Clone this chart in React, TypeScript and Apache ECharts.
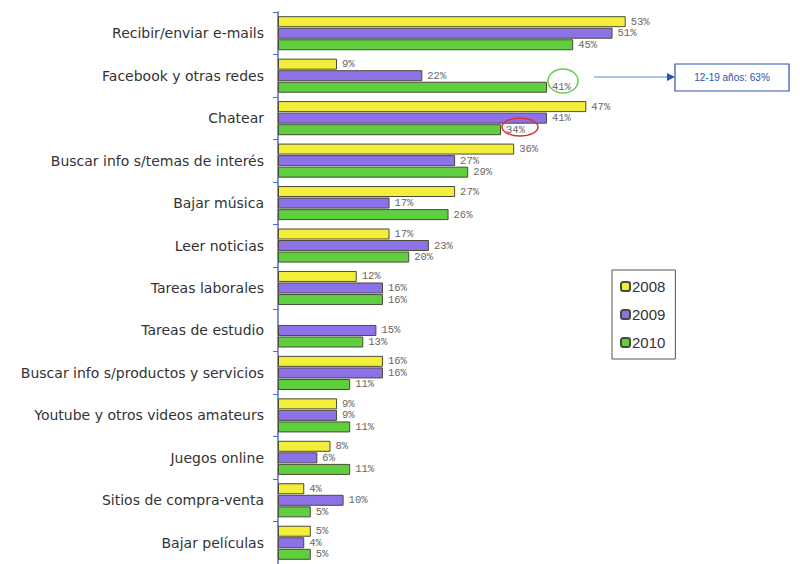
import React, { useEffect, useRef } from "react";
import * as echarts from "echarts";

const categories = [
  "Recibir/enviar e-mails",
  "Facebook y otras redes",
  "Chatear",
  "Buscar info s/temas de interés",
  "Bajar música",
  "Leer noticias",
  "Tareas laborales",
  "Tareas de estudio",
  "Buscar info s/productos y servicios",
  "Youtube y otros videos amateurs",
  "Juegos online",
  "Sitios de compra-venta",
  "Bajar películas",
];
const years = ["2008", "2009", "2010"];
const values2008 = [53, 9, 47, 36, 27, 17, 12, null, 16, 9, 8, 4, 5];
const values2009 = [51, 22, 41, 27, 17, 23, 16, 15, 16, 9, 6, 10, 4];
const values2010 = [45, 41, 34, 29, 26, 20, 16, 13, 11, 11, 11, 5, 5];
const calloutText = "12-19 años: 63%";

const colors = ["#f2ee3a", "#8c72e6", "#5fcf3f"];

export default function App() {
  const ref = useRef<HTMLDivElement>(null);
  useEffect(() => {
    if (!ref.current) return;
    const chart = echarts.init(ref.current, null, { renderer: "svg" });
    const seriesData = [values2008, values2009, values2010];
    chart.setOption({
      animation: false,
      backgroundColor: "#ffffff",
      grid: { left: 278, width: 492, top: 12, height: 557, containLabel: false },
      xAxis: { type: "value", min: 0, max: 75, show: false },
      yAxis: {
        type: "category",
        data: categories,
        inverse: true,
        axisLine: { show: true, lineStyle: { color: "#4a72c4", width: 1.5 } },
        axisTick: { show: true, length: 5, lineStyle: { color: "#4a72c4" } },
        axisLabel: {
          margin: 14,
          fontFamily: "DejaVu Sans",
          fontSize: 14,
          color: "#333",
        },
      },
      legend: {
        data: years,
        orient: "vertical",
        left: 612,
        top: 270,
        padding: [9, 10, 9, 8],
        itemGap: 13,
        itemWidth: 9,
        itemHeight: 9,
        borderColor: "#555",
        borderWidth: 1,
        icon: "roundRect",
        textStyle: { fontFamily: "Liberation Sans", fontSize: 15, color: "#333", padding: [0, 0, 0, -3] },
      },
      series: years.map((y, i) => ({
        name: y,
        type: "bar",
        data: seriesData[i],
        barWidth: 11,
        barGap: "5%",
        itemStyle: { color: colors[i], borderColor: "#4a4a3a", borderWidth: 1 },
        label: {
          show: true,
          position: "right",
          distance: 5,
          formatter: (p: any) => (p.value == null ? "" : p.value + "%"),
          fontFamily: "Liberation Mono",
          fontSize: 10.5,
          lineHeight: 11,
          color: "#666",
        },
      })),
      graphic: [
        {
          type: "ellipse",
          shape: { cx: 563, cy: 81, rx: 15, ry: 12 },
          style: { fill: "none", stroke: "#66cc44", lineWidth: 1.5 },
          z: 10,
        },
        {
          type: "ellipse",
          shape: { cx: 520, cy: 127, rx: 18, ry: 9 },
          style: { fill: "none", stroke: "#e03030", lineWidth: 1.5 },
          z: 10,
        },
        {
          type: "line",
          shape: { x1: 594, y1: 77, x2: 668, y2: 77 },
          style: { stroke: "#5b86d6", lineWidth: 1.2 },
          z: 10,
        },
        {
          type: "polygon",
          shape: { points: [[675, 77], [667, 73], [667, 81]] },
          style: { fill: "#3050b0" },
          z: 10,
        },
        {
          type: "rect",
          shape: { x: 675, y: 64, width: 114, height: 27 },
          style: { fill: "#ffffff", stroke: "#3050b0", lineWidth: 1.2 },
          z: 10,
        },
        {
          type: "text",
          x: 732,
          y: 77.5,
          style: {
            text: calloutText,
            fill: "#3050b0",
            fontFamily: "Liberation Sans",
            fontSize: 10,
            align: "center",
            verticalAlign: "middle",
          },
          z: 11,
        },
      ],
    });
    return () => chart.dispose();
  }, []);
  return (
    <div
      ref={ref}
      style={{ position: "fixed", left: 0, top: 0, width: 800, height: 564 }}
    />
  );
}
